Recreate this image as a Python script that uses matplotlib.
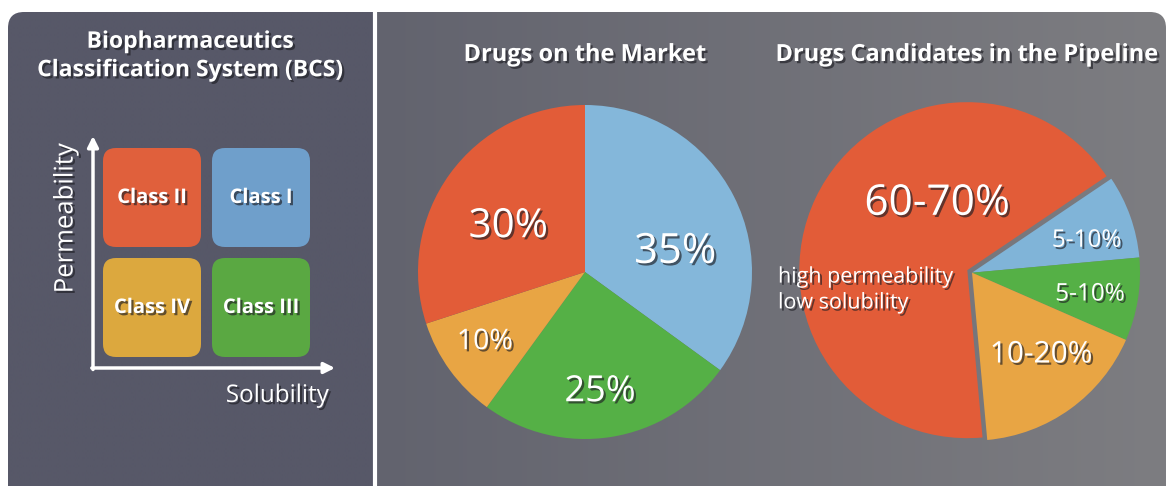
import numpy as np
import matplotlib
matplotlib.use("Agg")
import matplotlib.pyplot as plt
from matplotlib.patches import FancyBboxPatch
import matplotlib.patheffects as pe

plt.rcParams['font.family'] = ['Open Sans', 'DejaVu Sans']

# --- data ---
bcs_classes = ["Class II", "Class I", "Class IV", "Class III"]
bcs_colors = ["#e0603c", "#6f9fcb", "#dca83e", "#5aa842"]

market_labels = ["35%", "25%", "10%", "30%"]
market_values = [35, 25, 10, 30]
market_colors = ["#84b7da", "#55b046", "#e8a544", "#e25c38"]

pipeline_labels = ["5-10%", "5-10%", "10-20%", "60-70%"]
pipeline_values = [8, 8, 17, 67]
pipeline_colors = ["#80b4d8", "#55b046", "#e8a544", "#e25c38"]

W, H = 1166, 486
fig = plt.figure(figsize=(W / 100, H / 100), dpi=100)
fig.patch.set_facecolor("white")

bg = fig.add_axes([0, 0, 1, 1])
bg.set_xlim(0, W)
bg.set_ylim(H, 0)
bg.axis("off")

shadow = [pe.withSimplePatchShadow(offset=(1.6, -1.6), shadow_rgbFace="#1e1e24", alpha=0.65)]

# panel background: one rounded box, left part flat, right part a soft gradient
panel = FancyBboxPatch((8, 12), W - 8, H + 20, boxstyle="round,pad=0,rounding_size=16",
                       facecolor="none", edgecolor="none")
bg.add_patch(panel)
xs = np.linspace(0, 1, 400)
left_c = np.array([0x57, 0x58, 0x68]) / 255
r0 = np.array([0x62, 0x63, 0x6e]) / 255
r1 = np.array([0x7d, 0x7d, 0x81]) / 255
grad = np.zeros((1, 400, 3))
xpix = 8 + xs * (W - 8)
for i, xp in enumerate(xpix):
    if xp < 375:
        grad[0, i] = left_c
    else:
        t = (xp - 375) / (W - 375)
        grad[0, i] = r0 + (r1 - r0) * t
img = bg.imshow(grad, extent=[8, W, H, 12], aspect="auto", interpolation="bilinear", zorder=1)
img.set_clip_path(panel)
bg.set_xlim(0, W)
bg.set_ylim(H, 0)
bg.plot([375, 375], [10, H], color="white", lw=3, zorder=2, solid_capstyle="butt")

# left panel: BCS
bg.text(190, 56, "Biopharmaceutics\nClassification System (BCS)", ha="center", va="center",
        fontsize=16.5, fontweight="bold", color="white", linespacing=1.25,
        path_effects=shadow, zorder=5)

box_x = [103, 212, 103, 212]
box_y = [148, 148, 258, 258]
for name, col, bx, by in zip(bcs_classes, bcs_colors, box_x, box_y):
    bg.add_patch(FancyBboxPatch((bx, by), 98, 99, boxstyle="round,pad=0,rounding_size=13",
                                facecolor=col, edgecolor="none", zorder=3))
    bg.text(bx + 49, by + 50, name, ha="center", va="center", fontsize=14.5,
            fontweight="bold", color="white", path_effects=shadow, zorder=5)

arrow_kw = dict(arrowstyle="-|>", color="white", lw=2.5, mutation_scale=16,
                shrinkA=0, shrinkB=0)
bg.annotate("", xy=(93, 136), xytext=(93, 369.5), arrowprops=arrow_kw, zorder=4)
bg.annotate("", xy=(335, 368), xytext=(91.8, 368), arrowprops=arrow_kw, zorder=4)
bg.text(66, 218, "Permeability", rotation=90, ha="center", va="center", fontsize=18.5,
        color="white", path_effects=shadow, zorder=5)
bg.text(329, 396, "Solubility", ha="right", va="center", fontsize=17.5,
        color="white", path_effects=shadow, zorder=5)


def pie_axes(cx, cy, r):
    ax = fig.add_axes([(cx - r) / W, (H - cy - r) / H, 2 * r / W, 2 * r / H])
    ax.set_xlim(-1, 1)
    ax.set_ylim(-1, 1)
    ax.set_aspect("equal")
    ax.axis("off")
    ax.patch.set_alpha(0)
    return ax


# pie 1: drugs on the market
ax1 = pie_axes(585, 272, 167)
ax1.pie(market_values, colors=market_colors, startangle=90, counterclock=False,
        radius=1, wedgeprops=dict(linewidth=0, clip_on=False))
ax1.set_xlim(-1, 1)
ax1.set_ylim(-1, 1)
m_pos = [(0.54, 0.12), (0.09, -0.72), (-0.60, -0.42), (-0.46, 0.27)]
m_size = [30, 26, 20.5, 29]
for lab, (px, py), fs in zip(market_labels, m_pos, m_size):
    ax1.text(px, py, lab, ha="center", va="center", fontsize=fs, color="white",
             path_effects=shadow, zorder=5)
bg.text(585, 55, "Drugs on the Market", ha="center", va="center", fontsize=17,
        fontweight="bold", color="white", path_effects=shadow, zorder=5)

# pie 2: candidates in the pipeline
ax2 = pie_axes(969, 271, 168)
wedges, _ = ax2.pie(pipeline_values, colors=pipeline_colors, startangle=34,
                    counterclock=False, radius=1,
                    wedgeprops=dict(linewidth=0, clip_on=False))
ax2.set_xlim(-1, 1)
ax2.set_ylim(-1, 1)
# pull the large slice slightly away from the rest
wedges[3].set_center((-0.010, 0.005))
for w in wedges[:3]:
    w.set_center((0.018, -0.010))
p_pos = [(0.70, 0.18), (0.72, -0.14), (0.43, -0.50), (-0.19, 0.40)]
p_size = [17.5, 17.5, 21.5, 30.5]
for lab, (px, py), fs in zip(pipeline_labels, p_pos, p_size):
    ax2.text(px, py, lab, ha="center", va="center", fontsize=fs, color="white",
             path_effects=shadow, zorder=5)
ax2.text(778, 290, "high permeability\nlow solubility", ha="left", va="center",
         fontsize=15.5, color="white", linespacing=1.3, path_effects=shadow,
         transform=bg.transData, clip_on=False, zorder=6)
bg.text(967, 55, "Drugs Candidates in the Pipeline", ha="center", va="center",
        fontsize=17, fontweight="bold", color="white", path_effects=shadow, zorder=5)

fig.savefig("out.png", dpi=100, facecolor="white")
